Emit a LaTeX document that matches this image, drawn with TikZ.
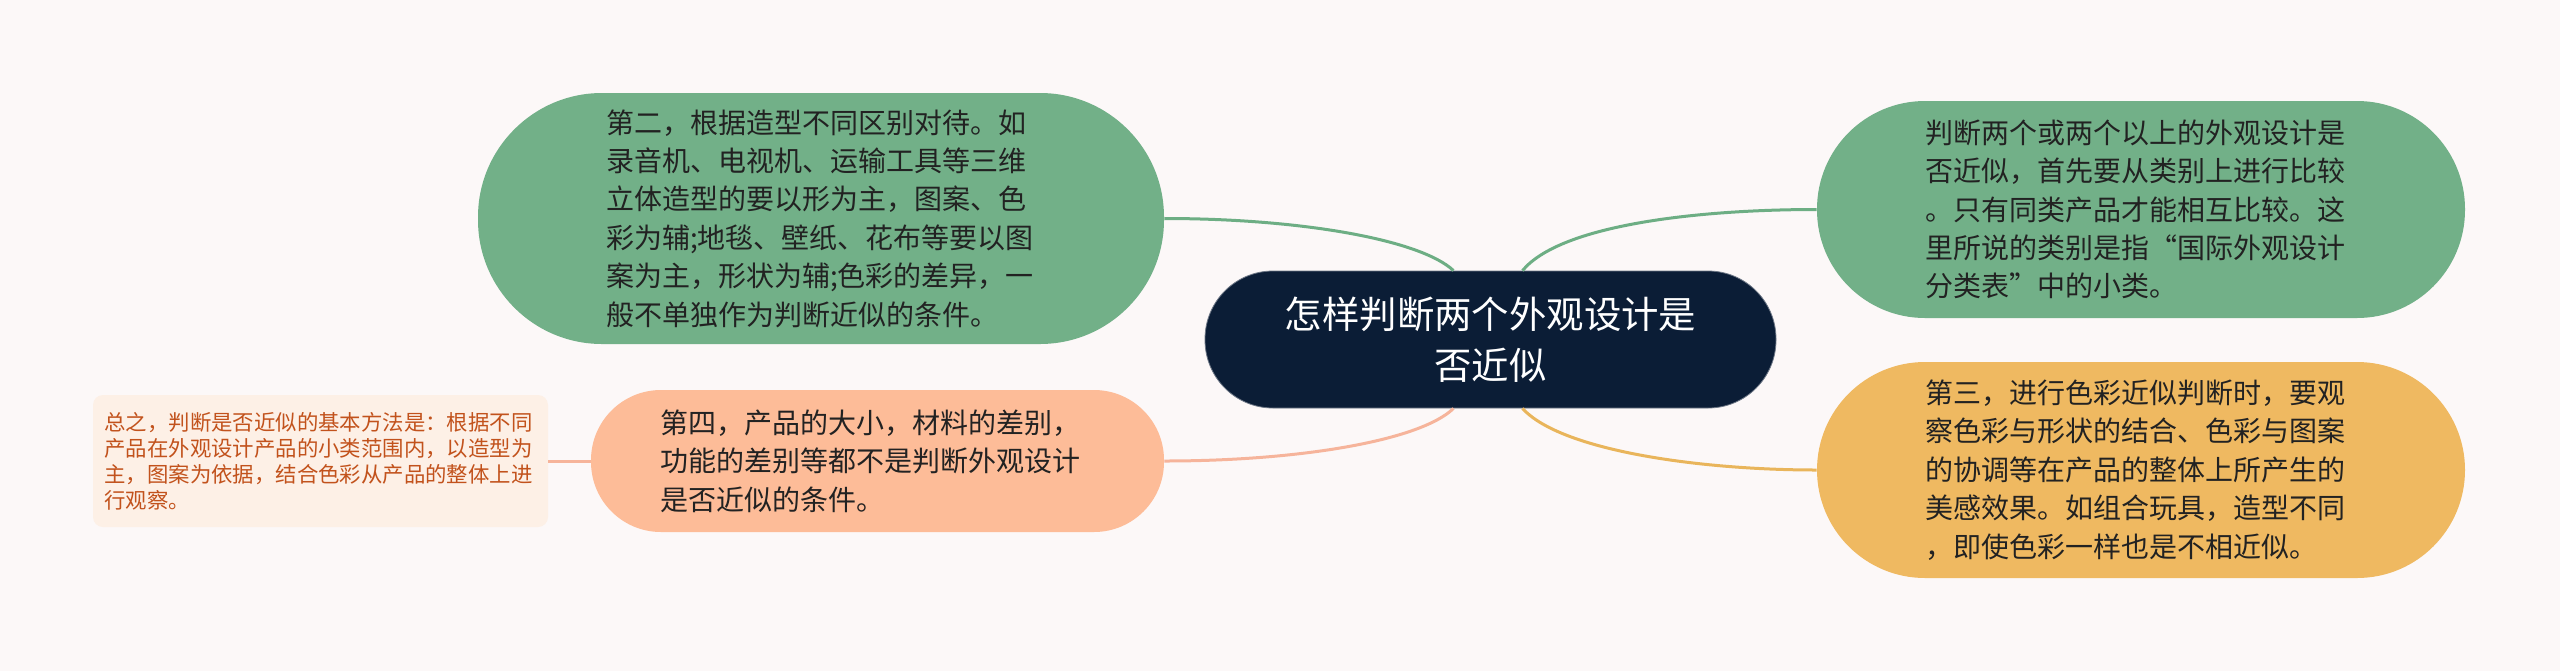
\documentclass[tikz,border=0pt]{standalone}
\usepackage{fontspec}
\setmainfont{Noto Sans CJK SC}
\usetikzlibrary{calc}
\definecolor{bgc}{HTML}{FCF8F8}
\definecolor{navy}{HTML}{0B1D36}
\definecolor{greenf}{HTML}{72B088}
\definecolor{greenl}{HTML}{6DAE84}
\definecolor{orangef}{HTML}{EFB961}
\definecolor{orangel}{HTML}{E9B55B}
\definecolor{salmonf}{HTML}{FDBC98}
\definecolor{salmonl}{HTML}{F6B49B}
\definecolor{peachf}{HTML}{FDF0E6}
\definecolor{peacht}{HTML}{C2521C}
\definecolor{txt}{HTML}{222222}
\tikzset{
  topic/.style={inner sep=0pt, align=left, text=txt, text width=215pt,
    font=\fontsize{14pt}{19.2pt}\selectfont},
  rootbox/.style={fill=navy, draw=navy!60!white, line width=0.4pt, inner sep=0pt,
    align=center, text=white, minimum width=285.5pt, minimum height=68.5pt,
    rounded corners=34pt, font=\fontsize{18.7pt}{25.5pt}\selectfont},
  link/.style={line width=1.5pt},
}
\begin{document}
\begin{tikzpicture}[x=0.5pt,y=-0.5pt]
\fill[bgc] (0,0) rectangle (2560,671);
\useasboundingbox (0,0) rectangle (2560,671);

\node[rootbox] (root) at (1490.5,339.5) {怎样判断两个外观设计是\\否近似};

\node[topic, fill=greenf, minimum width=343pt, minimum height=125.5pt,
  rounded corners=62pt] (tl) at (821,218.5)
  {第二，根据造型不同区别对待。如\\录音机、电视机、运输工具等三维\\立体造型的要以形为主，图案、色\\彩为辅;地毯、壁纸、花布等要以图\\案为主，形状为辅;色彩的差异，一\\般不单独作为判断近似的条件。};

\node[topic, fill=greenf, minimum width=324pt, minimum height=108.5pt,
  rounded corners=54pt, text width=216pt] (tr) at (2141,209.5)
  {判断两个或两个以上的外观设计是\\否近似，首先要从类别上进行比较\\。只有同类产品才能相互比较。这\\里所说的类别是指“国际外观设计\\分类表”中的小类。};

\node[topic, fill=orangef, minimum width=324pt, minimum height=108pt,
  rounded corners=54pt, text width=216pt] (br) at (2141,470)
  {第三，进行色彩近似判断时，要观\\察色彩与形状的结合、色彩与图案\\的协调等在产品的整体上所产生的\\美感效果。如组合玩具，造型不同\\，即使色彩一样也是不相近似。};

\node[topic, fill=salmonf, minimum width=286.5pt, minimum height=71pt,
  rounded corners=35pt, text width=217pt] (sl) at (877.5,461)
  {第四，产品的大小，材料的差别，\\功能的差别等都不是判断外观设计\\是否近似的条件。};

\node[topic, fill=peachf, text=peacht, minimum width=227.5pt, minimum height=66pt,
  rounded corners=5pt, text width=216pt,
  font=\fontsize{10.7pt}{13pt}\selectfont] (lb) at (320.5,461)
  {总之，判断是否近似的基本方法是：根据不同\\产品在外观设计产品的小类范围内，以造型为\\主，图案为依据，结合色彩从产品的整体上进\\行观察。};

\coordinate (rtl) at ($(root.north)+(-37,0)$);
\coordinate (rtr) at ($(root.north)+(32,0)$);
\coordinate (rbl) at ($(root.south)+(-37,0)$);
\coordinate (rbr) at ($(root.south)+(32,0)$);

\draw[link, greenl] (tl.east) .. controls ($(tl.east)+(136,0)$) and ($(rtl)+(-33,-31)$) .. (rtl);
\draw[link, greenl] (rtr) .. controls ($(rtr)+(38,-46)$) and ($(tr.west)+(-118,0)$) .. (tr.west);
\draw[link, salmonl] (sl.east) .. controls ($(sl.east)+(136,0)$) and ($(rbl)+(-33,32)$) .. (rbl);
\draw[link, orangel] (rbr) .. controls ($(rbr)+(38,42)$) and ($(br.west)+(-118,0)$) .. (br.west);
\draw[link, salmonl] (sl.west) -- (lb.east);
\end{tikzpicture}
\end{document}
